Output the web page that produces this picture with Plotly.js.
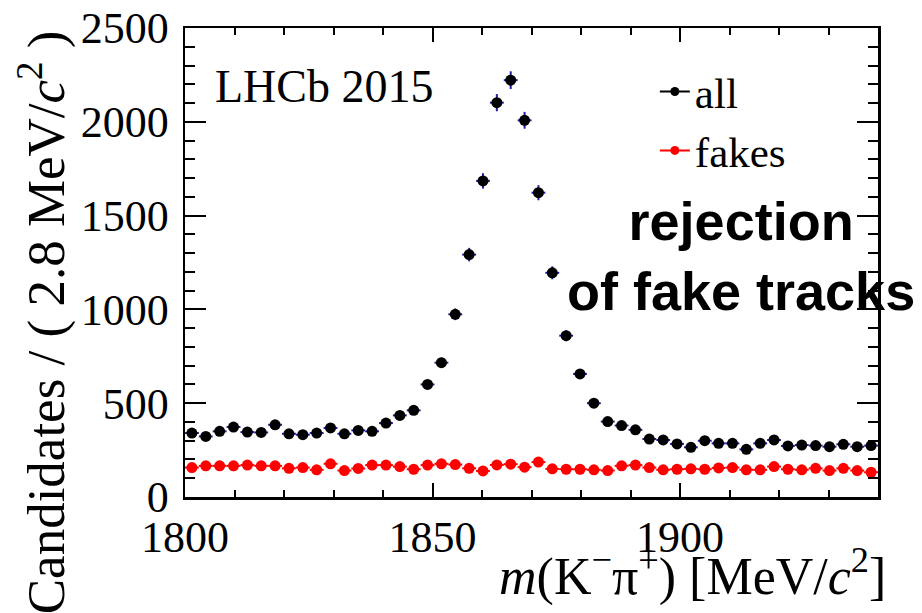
<!DOCTYPE html>
<html>
<head>
<meta charset="utf-8">
<script src="https://cdn.plot.ly/plotly-3.0.1.min.js"></script>
<style>html,body{margin:0;padding:0;background:#fff;}#chart{width:922px;height:613px;}</style>
</head>
<body>
<div id="chart"></div>
<script>
// bin centres of m(K- pi+) [MeV/c^2], 2.8 MeV bins from 1800 to 1940
const massBins = [1801.4, 1804.2, 1807.0, 1809.8, 1812.6, 1815.4, 1818.2, 1821.0, 1823.8, 1826.6,
  1829.4, 1832.2, 1835.0, 1837.8, 1840.6, 1843.4, 1846.2, 1849.0, 1851.8, 1854.6,
  1857.4, 1860.2, 1863.0, 1865.8, 1868.6, 1871.4, 1874.2, 1877.0, 1879.8, 1882.6,
  1885.4, 1888.2, 1891.0, 1893.8, 1896.6, 1899.4, 1902.2, 1905.0, 1907.8, 1910.6,
  1913.4, 1916.2, 1919.0, 1921.8, 1924.6, 1927.4, 1930.2, 1933.0, 1935.8, 1938.6];

const allCandidates = [341, 323, 350, 373, 346, 344, 385, 337, 332, 341,
  368, 337, 355, 350, 394, 435, 462, 600, 716, 974,
  1292, 1685, 2102, 2222, 2008, 1622, 1195, 860, 656, 500,
  402, 381, 358, 309, 304, 283, 265, 300, 286, 286,
  254, 286, 304, 272, 277, 274, 268, 281, 268, 274];

const fakeCandidates = [157, 166, 166, 166, 170, 166, 166, 153, 157, 145,
  177, 141, 152, 170, 170, 162, 148, 170, 177, 173,
  153, 139, 171, 175, 159, 186, 150, 148, 148, 145,
  141, 166, 170, 157, 145, 148, 150, 148, 155, 157,
  145, 145, 162, 148, 145, 153, 141, 153, 141, 132];

const seriesNames = ['all', 'fakes'];
const xTickVals = [1800, 1850, 1900];
const yTickVals = [0, 500, 1000, 1500, 2000, 2500];

const halfBin = 1.4;
const serif = 'Liberation Serif';

const traces = [
  {
    x: massBins, y: allCandidates, type: 'scatter', mode: 'markers', showlegend: false,
    marker: {color: '#000000', size: 11},
    error_y: {type: 'sqrt', color: '#1f1fa8', thickness: 2, width: 0},
    error_x: {type: 'constant', value: halfBin, color: '#1f1fa8', thickness: 2, width: 0}
  },
  {
    x: massBins, y: fakeCandidates, type: 'scatter', mode: 'markers', showlegend: false,
    marker: {color: '#ff0000', size: 11},
    error_y: {type: 'sqrt', color: '#ff0000', thickness: 2, width: 0},
    error_x: {type: 'constant', value: halfBin, color: '#ff0000', thickness: 2, width: 0}
  },
  {x: [null], y: [null], type: 'scatter', mode: 'lines+markers', name: seriesNames[0],
   line: {color: '#000000', width: 2}, marker: {color: '#000000', size: 9}},
  {x: [null], y: [null], type: 'scatter', mode: 'lines+markers', name: seriesNames[1],
   line: {color: '#ff0000', width: 2}, marker: {color: '#ff0000', size: 9}}
];

const layout = {
  width: 922, height: 613,
  margin: {l: 185, r: 44, t: 28, b: 116},
  paper_bgcolor: '#ffffff', plot_bgcolor: '#ffffff',
  font: {family: serif, color: '#000'},
  showlegend: true,
  legend: {x: 0.678, y: 0.938, xanchor: 'left', yanchor: 'top', bgcolor: 'rgba(0,0,0,0)',
           font: {family: serif, size: 43, color: '#000'}, itemwidth: 30},
  xaxis: {
    range: [1800, 1940], tickvals: xTickVals, ticktext: xTickVals.map(String),
    ticks: 'inside', ticklen: 14, tickwidth: 2, tickcolor: '#000',
    minor: {dtick: 10, tick0: 1800, ticks: 'inside', ticklen: 7, tickwidth: 2, tickcolor: '#000', showgrid: false},
    showline: true, linewidth: 2.5, linecolor: '#000', mirror: 'ticks',
    showgrid: false, zeroline: false,
    tickfont: {family: serif, size: 44, color: '#000'}, ticklabelstandoff: 0
  },
  yaxis: {
    range: [0, 2500], tickvals: yTickVals, ticktext: yTickVals.map(String),
    ticks: 'inside', ticklen: 21, tickwidth: 2, tickcolor: '#000',
    minor: {dtick: 100, tick0: 0, ticks: 'inside', ticklen: 10, tickwidth: 2, tickcolor: '#000', showgrid: false},
    showline: true, linewidth: 2.5, linecolor: '#000', mirror: 'ticks',
    showgrid: false, zeroline: false,
    tickfont: {family: serif, size: 44, color: '#000'}, ticklabelstandoff: 5
  },
  annotations: [
    {text: '<i>m</i>(K<sup>−</sup>π<sup>+</sup>) [MeV/<i>c</i><sup>2</sup>]', xref: 'paper', yref: 'paper',
     x: 1.0144, y: -0.163, xanchor: 'right', yanchor: 'middle', showarrow: false,
     font: {family: serif, size: 52, color: '#000'}},
    {text: 'Candidates / ( 2.8 MeV/<i>c</i><sup>2</sup> )', xref: 'paper', yref: 'paper',
     x: -0.206, y: 1.0, xanchor: 'center', yanchor: 'top', textangle: -90, showarrow: false,
     font: {family: serif, size: 53, color: '#000'}},
    {text: 'LHCb 2015', xref: 'paper', yref: 'paper', x: 0.04, y: 0.876,
     xanchor: 'left', yanchor: 'middle', showarrow: false,
     font: {family: serif, size: 46, color: '#000'}},
    {text: '<b>rejection<br>of fake tracks</b>', xref: 'paper', yref: 'paper', x: 0.802, y: 0.514,
     xanchor: 'center', yanchor: 'middle', align: 'center', showarrow: false,
     font: {family: 'Liberation Sans', size: 54, color: '#000'}}
  ]
};

Plotly.newPlot('chart', traces, layout, {displayModeBar: false, staticPlot: true});
</script>
</body>
</html>
